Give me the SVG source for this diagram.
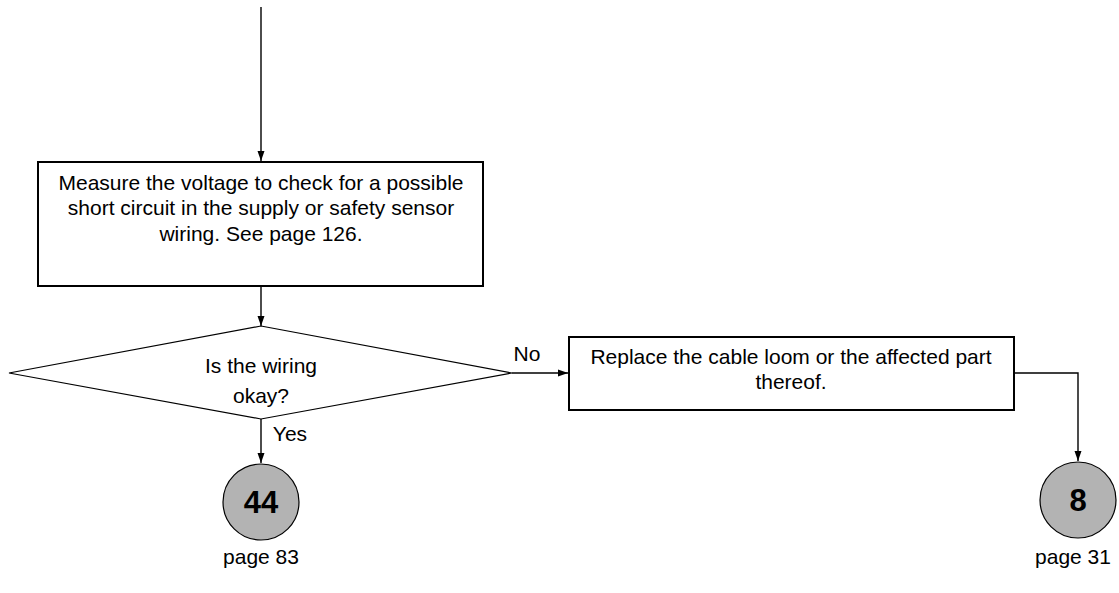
<svg xmlns="http://www.w3.org/2000/svg" width="1119" height="593" viewBox="0 0 1119 593">
<defs>
<marker id="arr" viewBox="0 0 10 10" refX="10" refY="5" markerWidth="10" markerHeight="10" markerUnits="userSpaceOnUse" orient="auto">
<path d="M0,1.5 L10,5 L0,8.5 z" fill="#000"/>
</marker>
<style>
.t{font-family:"Liberation Sans",Arial,sans-serif;font-size:21px;fill:#000;text-anchor:middle}
.b{font-family:"Liberation Sans",Arial,sans-serif;font-size:31px;font-weight:bold;fill:#000;text-anchor:middle}
.box{fill:#fff;stroke:#000;stroke-width:2}
.dia{fill:#fff;stroke:#000;stroke-width:1.2}
.circ{fill:#b3b3b3;stroke:#000;stroke-width:1.2}
.c{fill:none;stroke:#000;stroke-width:1.4}
</style>
</defs>
<g id="connectors">
<path class="c" d="M261,7 V161" marker-end="url(#arr)"/>
<path class="c" d="M261,287 V326" marker-end="url(#arr)"/>
<path class="c" d="M512,373 H568" marker-end="url(#arr)"/>
<path class="c" d="M261,419 V463" marker-end="url(#arr)"/>
<path class="c" d="M1015,373 H1078 V461" marker-end="url(#arr)"/>
<text class="t" x="527" y="361">No</text>
<text class="t" x="290" y="441">Yes</text>
</g>
<g id="measure">
<rect class="box" x="38" y="162" width="445" height="124"/>
<text class="t" x="261" y="190">Measure the voltage to check for a possible</text>
<text class="t" x="261" y="215">short circuit in the supply or safety sensor</text>
<text class="t" x="261" y="241">wiring. See page 126.</text>
</g>
<g id="decision">
<polygon class="dia" points="261,326 512,373 261,419 9,373"/>
<text class="t" x="261" y="373">Is the wiring</text>
<text class="t" x="261" y="403">okay?</text>
</g>
<g id="replace">
<rect class="box" x="569" y="337" width="445" height="73"/>
<text class="t" x="791" y="364">Replace the cable loom or the affected part</text>
<text class="t" x="791" y="389">thereof.</text>
</g>
<g id="goto44">
<circle class="circ" cx="261" cy="502" r="38"/>
<text class="b" x="261" y="513">44</text>
<text class="t" x="261" y="564">page 83</text>
</g>
<g id="goto8">
<circle class="circ" cx="1078" cy="500" r="38"/>
<text class="b" x="1078" y="511">8</text>
<text class="t" x="1073" y="564">page 31</text>
</g>
</svg>
